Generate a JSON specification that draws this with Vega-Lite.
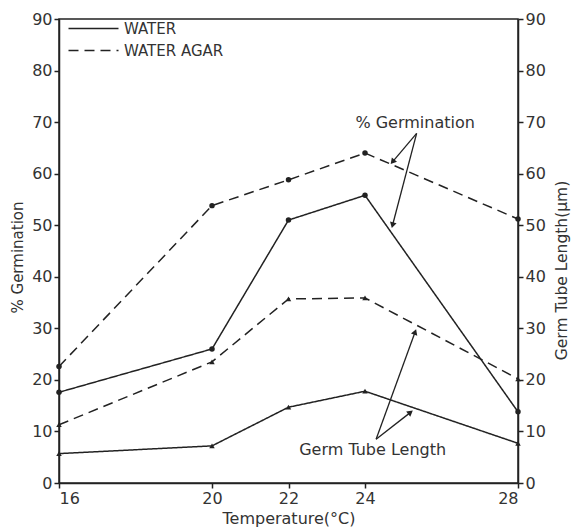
{
  "$schema": "https://vega.github.io/schema/vega-lite/v6.json",
  "width": 459,
  "height": 464,
  "autosize": "none",
  "padding": {"left": 59, "top": 19, "right": 53, "bottom": 45},
  "background": "white",
  "config": {
    "font": "DejaVu Sans",
    "view": {"stroke": "#222", "strokeWidth": 1.5},
    "axis": {"domainColor": "#222", "domainWidth": 1.5, "tickColor": "#222", "tickWidth": 1.5, "tickSize": 5, "labelColor": "#333", "labelFontSize": 16, "labelPadding": 2, "titleColor": "#333", "titleFontSize": 15, "titleFontWeight": "normal", "grid": false},
    "legend": {"orient": "none", "legendX": 27, "legendY": 2, "symbolType": "M-5,0H5", "symbolSize": 100, "symbolStrokeWidth": 1.5, "symbolStrokeColor": "#222", "labelFontSize": 15, "labelColor": "#333", "labelOffset": 23, "rowPadding": 6, "title": null}
  },
  "datasets": {
    "series": [
      {"temp": 16, "value": 17.6, "measure": "germ", "medium": "WATER"},
      {"temp": 20, "value": 26, "measure": "germ", "medium": "WATER"},
      {"temp": 22, "value": 51, "measure": "germ", "medium": "WATER"},
      {"temp": 24, "value": 55.8, "measure": "germ", "medium": "WATER"},
      {"temp": 28, "value": 13.8, "measure": "germ", "medium": "WATER"},
      {"temp": 16, "value": 22.6, "measure": "germ", "medium": "WATER AGAR"},
      {"temp": 20, "value": 53.8, "measure": "germ", "medium": "WATER AGAR"},
      {"temp": 22, "value": 58.8, "measure": "germ", "medium": "WATER AGAR"},
      {"temp": 24, "value": 64, "measure": "germ", "medium": "WATER AGAR"},
      {"temp": 28, "value": 51.2, "measure": "germ", "medium": "WATER AGAR"},
      {"temp": 16, "value": 5.7, "measure": "tube", "medium": "WATER"},
      {"temp": 20, "value": 7.2, "measure": "tube", "medium": "WATER"},
      {"temp": 22, "value": 14.7, "measure": "tube", "medium": "WATER"},
      {"temp": 24, "value": 17.8, "measure": "tube", "medium": "WATER"},
      {"temp": 28, "value": 7.7, "measure": "tube", "medium": "WATER"},
      {"temp": 16, "value": 11.3, "measure": "tube", "medium": "WATER AGAR"},
      {"temp": 20, "value": 23.5, "measure": "tube", "medium": "WATER AGAR"},
      {"temp": 22, "value": 35.7, "measure": "tube", "medium": "WATER AGAR"},
      {"temp": 24, "value": 35.9, "measure": "tube", "medium": "WATER AGAR"},
      {"temp": 28, "value": 20.2, "measure": "tube", "medium": "WATER AGAR"}
    ],
    "arrows": [
      {"id": "g1", "temp": 25.35, "value": 67.8, "temp2": 24.72, "value2": 62.3},
      {"id": "g2", "temp": 25.35, "value": 67.8, "temp2": 24.72, "value2": 50.0},
      {"id": "t1", "temp": 24.29, "value": 8.5, "temp2": 25.31, "value2": 29.3},
      {"id": "t2", "temp": 24.29, "value": 8.5, "temp2": 25.19, "value2": 13.7}
    ],
    "labels": [
      {"temp": 25.31, "value": 69.8, "text": "% Germination"},
      {"temp": 24.2, "value": 6.4, "text": "Germ Tube Length"}
    ]
  },
  "layer": [
    {
      "layer": [
        {
          "data": {"name": "series"},
          "mark": {"type": "line", "color": "#222", "strokeWidth": 1.5},
          "encoding": {
            "x": {"field": "temp", "type": "quantitative", "scale": {"domain": [16, 28], "nice": false, "zero": false}, "axis": {"values": [16, 20, 22, 24, 28], "title": "Temperature(°C)", "titlePadding": 4, "titleFontSize": 16}},
            "y": {"field": "value", "type": "quantitative", "scale": {"domain": [0, 90], "nice": false}, "axis": {"values": [0, 10, 20, 30, 40, 50, 60, 70, 80, 90], "title": "% Germination", "titlePadding": 6, "titleY": 238}},
            "strokeDash": {"field": "medium", "type": "nominal", "scale": {"domain": ["WATER", "WATER AGAR"], "range": [[1, 0], [10, 6]]}},
            "detail": {"field": "measure"}
          }
        },
        {
          "data": {"name": "series"},
          "mark": {"type": "point", "filled": true, "color": "#222", "opacity": 1, "size": 30},
          "encoding": {
            "x": {"field": "temp", "type": "quantitative", "title": "Temperature(°C)"},
            "y": {"field": "value", "type": "quantitative", "title": "% Germination"},
            "shape": {"field": "measure", "type": "nominal", "scale": {"domain": ["germ", "tube"], "range": ["circle", "triangle-up"]}, "legend": null}
          }
        },
        {
          "data": {"name": "arrows"},
          "mark": {"type": "rule", "color": "#222", "strokeWidth": 1.3},
          "encoding": {
            "x": {"field": "temp", "type": "quantitative", "title": "Temperature(°C)"},
            "y": {"field": "value", "type": "quantitative", "title": "% Germination"},
            "x2": {"field": "temp2"},
            "y2": {"field": "value2"}
          }
        },
        {
          "data": {"name": "arrows"},
          "transform": [{"filter": {"field": "id", "equal": "g1"}}],
          "mark": {"type": "point", "shape": "triangle-up", "filled": true, "color": "#222", "opacity": 1, "size": 45, "angle": 220},
          "encoding": {
            "x": {"field": "temp2", "type": "quantitative", "title": "Temperature(°C)"},
            "y": {"field": "value2", "type": "quantitative", "title": "% Germination"}
          }
        },
        {
          "data": {"name": "arrows"},
          "transform": [{"filter": {"field": "id", "equal": "g2"}}],
          "mark": {"type": "point", "shape": "triangle-up", "filled": true, "color": "#222", "opacity": 1, "size": 45, "angle": 195},
          "encoding": {
            "x": {"field": "temp2", "type": "quantitative", "title": "Temperature(°C)"},
            "y": {"field": "value2", "type": "quantitative", "title": "% Germination"}
          }
        },
        {
          "data": {"name": "arrows"},
          "transform": [{"filter": {"field": "id", "equal": "t1"}}],
          "mark": {"type": "point", "shape": "triangle-up", "filled": true, "color": "#222", "opacity": 1, "size": 45, "angle": 20},
          "encoding": {
            "x": {"field": "temp2", "type": "quantitative", "title": "Temperature(°C)"},
            "y": {"field": "value2", "type": "quantitative", "title": "% Germination"}
          }
        },
        {
          "data": {"name": "arrows"},
          "transform": [{"filter": {"field": "id", "equal": "t2"}}],
          "mark": {"type": "point", "shape": "triangle-up", "filled": true, "color": "#222", "opacity": 1, "size": 45, "angle": 52},
          "encoding": {
            "x": {"field": "temp2", "type": "quantitative", "title": "Temperature(°C)"},
            "y": {"field": "value2", "type": "quantitative", "title": "% Germination"}
          }
        },
        {
          "data": {"name": "labels"},
          "mark": {"type": "text", "fontSize": 16, "color": "#333", "align": "center", "baseline": "middle"},
          "encoding": {
            "x": {"field": "temp", "type": "quantitative", "title": "Temperature(°C)"},
            "y": {"field": "value", "type": "quantitative", "title": "% Germination"},
            "text": {"field": "text"}
          }
        }
      ]
    },
    {
      "data": {"name": "series"},
      "mark": {"type": "point", "opacity": 0},
      "encoding": {
        "x": {"field": "temp", "type": "quantitative", "title": "Temperature(°C)"},
        "y": {"field": "value", "type": "quantitative", "scale": {"domain": [0, 90], "nice": false}, "axis": {"orient": "right", "values": [0, 10, 20, 30, 40, 50, 60, 70, 80, 90], "title": "Germ Tube Length(µm)", "titleFontSize": 15.5, "titleAngle": 270, "titleX": 43, "titleY": 251, "titleBaseline": "middle", "titleAlign": "center"}}
      }
    }
  ],
  "resolve": {"scale": {"y": "independent"}}
}
